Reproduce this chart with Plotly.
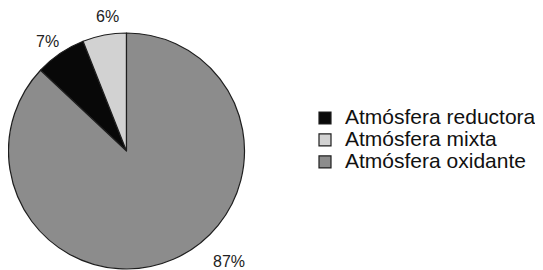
import plotly.graph_objects as go

labels = ["Atmósfera reductora", "Atmósfera mixta", "Atmósfera oxidante"]
values = [7, 6, 87]
colors = ["#080808", "#d2d2d2", "#8c8c8c"]

W, H = 543, 270
OFF = 8  # page offset of the plot div (body margin)
total = sum(values)
rotation = -360 * (values[0] + values[1]) / total


def px(x):
    return (x - OFF) / W


def py(y):
    return 1 - (y - OFF) / H


legend_names = [f"<span style='font-size:21px'>{l}</span>" for l in labels]

fig = go.Figure(go.Pie(
    labels=legend_names,
    values=values,
    sort=False,
    direction="clockwise",
    rotation=rotation,
    textinfo="none",
    hoverinfo="percent",
    marker=dict(colors=colors, line=dict(color="#1e1e1e", width=1.2)),
    domain=dict(x=[px(8), px(245)], y=[py(269), py(33)]),
))

# label positions (page pixels) for each slice's percent text
label_pos = [(47, 42), (107, 17), (229, 261)]
for v, (lx, ly) in zip(values, label_pos):
    fig.add_annotation(
        x=px(lx), y=py(ly), xref="paper", yref="paper",
        xanchor="center", yanchor="middle",
        text=f"{v}%", showarrow=False,
        font=dict(family="Liberation Sans", size=16, color="#222222"),
    )

fig.update_layout(
    width=W, height=H,
    margin=dict(l=0, r=0, t=0, b=0),
    paper_bgcolor="white",
    plot_bgcolor="white",
    showlegend=True,
    legend=dict(
        x=px(305), y=py(102), xanchor="left", yanchor="top",
        font=dict(family="Liberation Sans", size=14.6, color="#111111"),
        bgcolor="rgba(0,0,0,0)",
        tracegroupgap=0,
    ),
)

fig.write_html("out.html")
